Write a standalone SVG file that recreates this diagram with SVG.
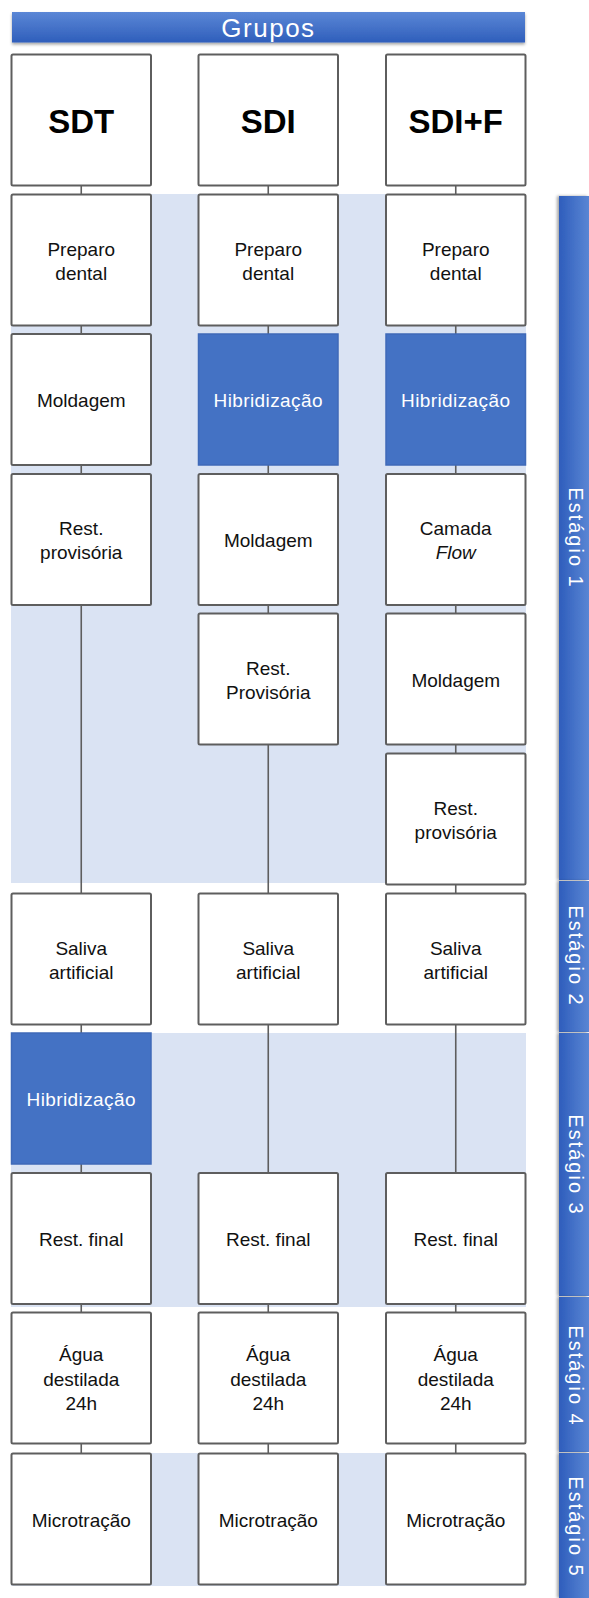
<svg xmlns="http://www.w3.org/2000/svg" width="589" height="1598" viewBox="0 0 589 1598">
<defs>
<linearGradient id="gBar" x1="0" y1="0" x2="0" y2="1">
<stop offset="0" stop-color="#5B87D6"/>
<stop offset="1" stop-color="#2F5EBB"/>
</linearGradient>
<linearGradient id="gStage" x1="0" y1="0" x2="1" y2="0">
<stop offset="0" stop-color="#2E5DBC"/>
<stop offset="1" stop-color="#5A86D4"/>
</linearGradient>
<filter id="sh" x="-10%" y="-10%" width="130%" height="160%">
<feDropShadow dx="0" dy="2" stdDeviation="1.5" flood-color="#000" flood-opacity="0.35"/>
</filter>
<filter id="shL" x="-40%" y="-5%" width="150%" height="110%">
<feDropShadow dx="-2" dy="0" stdDeviation="1.5" flood-color="#000" flood-opacity="0.35"/>
</filter>
</defs>
<style>
.band{fill:#DAE3F3}
.box{fill:#FFFFFF;stroke:#5E5E5E;stroke-width:2}
.hbox{fill:#4472C4;stroke:#3F6AB8;stroke-width:1.5}
.t{font-family:"Liberation Sans",Arial,sans-serif;font-size:19px;fill:#111;text-anchor:middle}
.tw{font-family:"Liberation Sans",Arial,sans-serif;font-size:19px;fill:#FFFFFF;text-anchor:middle;letter-spacing:0.4px}
.th{font-family:"Liberation Sans",Arial,sans-serif;font-size:33px;font-weight:bold;fill:#000;text-anchor:middle}
.tg{font-family:"Liberation Sans",Arial,sans-serif;font-size:26px;fill:#FFFFFF;text-anchor:middle;letter-spacing:1.5px}
.ts{font-family:"Liberation Sans",Arial,sans-serif;font-size:20px;fill:#FFFFFF;text-anchor:middle;letter-spacing:2px}
.c{stroke:#5E5E5E;stroke-width:1.6;fill:none}
.stage{fill:url(#gStage)}
</style>

<!-- background bands -->
<g id="bands">
<rect class="band" x="11" y="194" width="515" height="689"/>
<rect class="band" x="11" y="1033" width="515" height="274"/>
<rect class="band" x="11" y="1453" width="515" height="133"/>
</g>

<!-- stage bars -->
<g id="stages">
<rect class="stage" x="559" y="196" width="30" height="684" filter="url(#shL)"/>
<rect class="stage" x="559" y="881" width="30" height="151" filter="url(#shL)"/>
<rect class="stage" x="559" y="1033" width="30" height="263" filter="url(#shL)"/>
<rect class="stage" x="559" y="1297" width="30" height="155" filter="url(#shL)"/>
<rect class="stage" x="559" y="1453" width="30" height="145" filter="url(#shL)"/>
<text class="ts" transform="translate(569,538) rotate(90)">Estágio 1</text>
<text class="ts" transform="translate(569,956) rotate(90)">Estágio 2</text>
<text class="ts" transform="translate(569,1165) rotate(90)">Estágio 3</text>
<text class="ts" transform="translate(569,1376) rotate(90)">Estágio 4</text>
<text class="ts" transform="translate(569,1527) rotate(90)">Estágio 5</text>
</g>

<!-- title -->
<g id="grupos">
<rect x="12" y="12" width="513" height="30.5" fill="url(#gBar)" filter="url(#sh)"/>
<text class="tg" x="268.5" y="37">Grupos</text>
</g>

<!-- connectors -->
<g id="connectors">
<line class="c" x1="81.25" y1="185.5" x2="81.25" y2="194.5"/>
<line class="c" x1="81.25" y1="325.5" x2="81.25" y2="334"/>
<line class="c" x1="81.25" y1="465" x2="81.25" y2="474"/>
<line class="c" x1="81.25" y1="605" x2="81.25" y2="893.5"/>
<line class="c" x1="81.25" y1="1024.5" x2="81.25" y2="1033"/>
<line class="c" x1="81.25" y1="1164" x2="81.25" y2="1173"/>
<line class="c" x1="81.25" y1="1304" x2="81.25" y2="1312.5"/>
<line class="c" x1="81.25" y1="1443.5" x2="81.25" y2="1453.5"/>

<line class="c" x1="268.25" y1="185.5" x2="268.25" y2="194.5"/>
<line class="c" x1="268.25" y1="325.5" x2="268.25" y2="334"/>
<line class="c" x1="268.25" y1="465" x2="268.25" y2="474"/>
<line class="c" x1="268.25" y1="605" x2="268.25" y2="613.5"/>
<line class="c" x1="268.25" y1="744.5" x2="268.25" y2="893.5"/>
<line class="c" x1="268.25" y1="1024.5" x2="268.25" y2="1173"/>
<line class="c" x1="268.25" y1="1304" x2="268.25" y2="1312.5"/>
<line class="c" x1="268.25" y1="1443.5" x2="268.25" y2="1453.5"/>

<line class="c" x1="455.75" y1="185.5" x2="455.75" y2="194.5"/>
<line class="c" x1="455.75" y1="325.5" x2="455.75" y2="334"/>
<line class="c" x1="455.75" y1="465" x2="455.75" y2="474"/>
<line class="c" x1="455.75" y1="605" x2="455.75" y2="613.5"/>
<line class="c" x1="455.75" y1="744.5" x2="455.75" y2="753.5"/>
<line class="c" x1="455.75" y1="884.5" x2="455.75" y2="893.5"/>
<line class="c" x1="455.75" y1="1024.5" x2="455.75" y2="1173"/>
<line class="c" x1="455.75" y1="1304" x2="455.75" y2="1312.5"/>
<line class="c" x1="455.75" y1="1443.5" x2="455.75" y2="1453.5"/>
</g>

<!-- Column SDT -->
<g id="sdt-header"><rect class="box" x="11.5" y="54.5" width="139.5" height="131" rx="1.5"/><text class="th" x="81.25" y="133">SDT</text></g>
<g id="sdt-preparo"><rect class="box" x="11.5" y="194.5" width="139.5" height="131" rx="1.5"/><text class="t" x="81.25" y="256">Preparo</text><text class="t" x="81.25" y="280">dental</text></g>
<g id="sdt-moldagem"><rect class="box" x="11.5" y="334" width="139.5" height="131" rx="1.5"/><text class="t" x="81.25" y="407">Moldagem</text></g>
<g id="sdt-restprov"><rect class="box" x="11.5" y="474" width="139.5" height="131" rx="1.5"/><text class="t" x="81.25" y="535">Rest.</text><text class="t" x="81.25" y="559">provisória</text></g>
<g id="sdt-saliva"><rect class="box" x="11.5" y="893.5" width="139.5" height="131" rx="1.5"/><text class="t" x="81.25" y="955">Saliva</text><text class="t" x="81.25" y="979">artificial</text></g>
<g id="sdt-hibrid"><rect class="hbox" x="11.5" y="1033" width="139.5" height="131"/><text class="tw" x="81.25" y="1106">Hibridização</text></g>
<g id="sdt-restfinal"><rect class="box" x="11.5" y="1173" width="139.5" height="131" rx="1.5"/><text class="t" x="81.25" y="1246">Rest. final</text></g>
<g id="sdt-agua"><rect class="box" x="11.5" y="1312.5" width="139.5" height="131" rx="1.5"/><text class="t" x="81.25" y="1361">Água</text><text class="t" x="81.25" y="1386">destilada</text><text class="t" x="81.25" y="1410">24h</text></g>
<g id="sdt-micro"><rect class="box" x="11.5" y="1453.5" width="139.5" height="131" rx="1.5"/><text class="t" x="81.25" y="1527">Microtração</text></g>

<!-- Column SDI -->
<g id="sdi-header"><rect class="box" x="198.5" y="54.5" width="139.5" height="131" rx="1.5"/><text class="th" x="268.25" y="133">SDI</text></g>
<g id="sdi-preparo"><rect class="box" x="198.5" y="194.5" width="139.5" height="131" rx="1.5"/><text class="t" x="268.25" y="256">Preparo</text><text class="t" x="268.25" y="280">dental</text></g>
<g id="sdi-hibrid"><rect class="hbox" x="198.5" y="334" width="139.5" height="131"/><text class="tw" x="268.25" y="407">Hibridização</text></g>
<g id="sdi-moldagem"><rect class="box" x="198.5" y="474" width="139.5" height="131" rx="1.5"/><text class="t" x="268.25" y="547">Moldagem</text></g>
<g id="sdi-restprov"><rect class="box" x="198.5" y="613.5" width="139.5" height="131" rx="1.5"/><text class="t" x="268.25" y="675">Rest.</text><text class="t" x="268.25" y="699">Provisória</text></g>
<g id="sdi-saliva"><rect class="box" x="198.5" y="893.5" width="139.5" height="131" rx="1.5"/><text class="t" x="268.25" y="955">Saliva</text><text class="t" x="268.25" y="979">artificial</text></g>
<g id="sdi-restfinal"><rect class="box" x="198.5" y="1173" width="139.5" height="131" rx="1.5"/><text class="t" x="268.25" y="1246">Rest. final</text></g>
<g id="sdi-agua"><rect class="box" x="198.5" y="1312.5" width="139.5" height="131" rx="1.5"/><text class="t" x="268.25" y="1361">Água</text><text class="t" x="268.25" y="1386">destilada</text><text class="t" x="268.25" y="1410">24h</text></g>
<g id="sdi-micro"><rect class="box" x="198.5" y="1453.5" width="139.5" height="131" rx="1.5"/><text class="t" x="268.25" y="1527">Microtração</text></g>

<!-- Column SDI+F -->
<g id="sdif-header"><rect class="box" x="386" y="54.5" width="139.5" height="131" rx="1.5"/><text class="th" x="455.75" y="133">SDI+F</text></g>
<g id="sdif-preparo"><rect class="box" x="386" y="194.5" width="139.5" height="131" rx="1.5"/><text class="t" x="455.75" y="256">Preparo</text><text class="t" x="455.75" y="280">dental</text></g>
<g id="sdif-hibrid"><rect class="hbox" x="386" y="334" width="139.5" height="131"/><text class="tw" x="455.75" y="407">Hibridização</text></g>
<g id="sdif-flow"><rect class="box" x="386" y="474" width="139.5" height="131" rx="1.5"/><text class="t" x="455.75" y="535">Camada</text><text class="t" x="455.75" y="559" font-style="italic">Flow</text></g>
<g id="sdif-moldagem"><rect class="box" x="386" y="613.5" width="139.5" height="131" rx="1.5"/><text class="t" x="455.75" y="687">Moldagem</text></g>
<g id="sdif-restprov"><rect class="box" x="386" y="753.5" width="139.5" height="131" rx="1.5"/><text class="t" x="455.75" y="815">Rest.</text><text class="t" x="455.75" y="839">provisória</text></g>
<g id="sdif-saliva"><rect class="box" x="386" y="893.5" width="139.5" height="131" rx="1.5"/><text class="t" x="455.75" y="955">Saliva</text><text class="t" x="455.75" y="979">artificial</text></g>
<g id="sdif-restfinal"><rect class="box" x="386" y="1173" width="139.5" height="131" rx="1.5"/><text class="t" x="455.75" y="1246">Rest. final</text></g>
<g id="sdif-agua"><rect class="box" x="386" y="1312.5" width="139.5" height="131" rx="1.5"/><text class="t" x="455.75" y="1361">Água</text><text class="t" x="455.75" y="1386">destilada</text><text class="t" x="455.75" y="1410">24h</text></g>
<g id="sdif-micro"><rect class="box" x="386" y="1453.5" width="139.5" height="131" rx="1.5"/><text class="t" x="455.75" y="1527">Microtração</text></g>
</svg>
